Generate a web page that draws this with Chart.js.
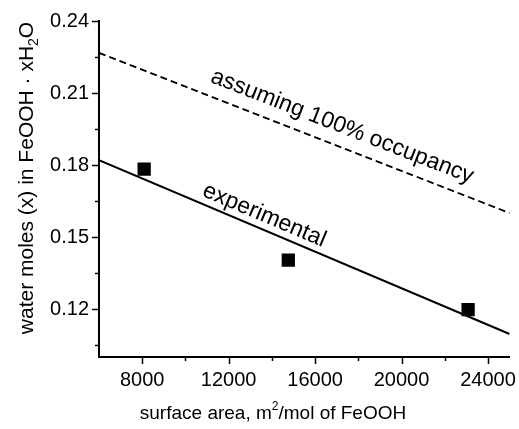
<!DOCTYPE html>
<html>
<head>
<meta charset="utf-8">
<title>Water content vs surface area</title>
<script src="https://cdn.jsdelivr.net/npm/chart.js@4"></script>
<style>
  html, body { margin: 0; padding: 0; background: #fff; }
  #wrap { width: 519px; height: 429px; position: relative; }
</style>
</head>
<body>
<div id="wrap"><canvas id="chart"></canvas></div>
<script>
// ---- data ----
const areaMeasured   = [8090, 14760, 23080];        // m2/mol of FeOOH
const waterMeasured  = [0.1783, 0.1404, 0.1197];    // x in FeOOH·xH2O
const fitX           = [6000, 25000];
const fitExperimental = [0.182, 0.1096];
const fitFullCoverage = [0.2267, 0.160];

const xTickValues  = [8000, 12000, 16000, 20000, 24000];
const xMinorValues = [10000, 14000, 18000, 22000];
const yTickValues  = [0.12, 0.15, 0.18, 0.21, 0.24];
const yMinorValues = [0.105, 0.135, 0.165, 0.195, 0.225];

const FONT = "'Liberation Sans', Arial, sans-serif";

const toPoints = (xs, ys) => xs.map((x, i) => ({ x, y: ys[i] }));

// ---- line captions, anchored in data units ----
const captions = [
  { text: 'experimental',            dataset: 1, x: 13650, y: 0.1590 },
  { text: 'assuming 100% occupancy', dataset: 2, x: 17250, y: 0.1960 }
];

// ---- outward major / minor ticks ----
const tickMarks = {
  id: 'tickMarks',
  afterDraw(chart) {
    const { ctx, chartArea, scales } = chart;
    ctx.save();
    ctx.strokeStyle = '#000';
    ctx.lineWidth = 1.5;
    const tick = (vals, len, axis) => vals.forEach(v => {
      ctx.beginPath();
      if (axis === 'x') {
        const px = Math.round(scales.x.getPixelForValue(v)) + 0.5;
        ctx.moveTo(px, chartArea.bottom);
        ctx.lineTo(px, chartArea.bottom + len);
      } else {
        const py = Math.round(scales.y.getPixelForValue(v)) + 0.5;
        ctx.moveTo(chartArea.left, py);
        ctx.lineTo(chartArea.left - len, py);
      }
      ctx.stroke();
    });
    tick(xTickValues, 7, 'x');
    tick(xMinorValues, 4, 'x');
    tick(yTickValues, 7, 'y');
    tick(yMinorValues, 4, 'y');
    ctx.restore();
  }
};

// draws text made of plain / super / subscript runs, centred on 0,0
function drawRuns(ctx, runs, size) {
  const small = Math.round(size * 0.65);
  const widths = runs.map(r => {
    ctx.font = (r.sup || r.sub ? small : size) + 'px ' + FONT;
    return ctx.measureText(r.t).width;
  });
  let x = -widths.reduce((a, b) => a + b, 0) / 2;
  runs.forEach((r, i) => {
    ctx.font = (r.sup || r.sub ? small : size) + 'px ' + FONT;
    const dy = r.sup ? -size * 0.45 : r.sub ? size * 0.22 : 0;
    ctx.fillText(r.t, x, dy);
    x += widths[i];
  });
}

// ---- axis titles and line captions ----
const annotations = {
  id: 'annotations',
  afterDraw(chart) {
    const { ctx, scales } = chart;
    ctx.save();
    ctx.fillStyle = '#000';
    ctx.textBaseline = 'alphabetic';
    ctx.textAlign = 'left';

    // x title
    ctx.save();
    ctx.translate(273, 419);
    drawRuns(ctx, [{ t: 'surface area, m' }, { t: '2', sup: true }, { t: '/mol of FeOOH' }], 19);
    ctx.restore();

    // y title
    ctx.save();
    ctx.translate(33, 178);
    ctx.rotate(-Math.PI / 2);
    drawRuns(ctx, [{ t: 'water moles (x) in FeOOH \u00b7 xH' }, { t: '2', sub: true }, { t: 'O' }], 21);
    ctx.restore();

    // captions rotated along their lines
    captions.forEach(c => {
      const d = chart.data.datasets[c.dataset].data;
      const x1 = scales.x.getPixelForValue(d[0].x), y1 = scales.y.getPixelForValue(d[0].y);
      const x2 = scales.x.getPixelForValue(d[1].x), y2 = scales.y.getPixelForValue(d[1].y);
      ctx.save();
      ctx.translate(scales.x.getPixelForValue(c.x), scales.y.getPixelForValue(c.y));
      ctx.rotate(Math.atan2(y2 - y1, x2 - x1));
      ctx.font = '23px ' + FONT;
      ctx.textAlign = 'center';
      ctx.textBaseline = 'middle';
      ctx.fillText(c.text, 0, 0);
      ctx.restore();
    });
    ctx.restore();
  }
};

new Chart(document.getElementById('chart'), {
  type: 'scatter',
  data: {
    datasets: [
      {
        label: 'measured',
        data: toPoints(areaMeasured, waterMeasured),
        pointStyle: 'rect',
        pointRadius: 9.4,
        pointBackgroundColor: '#000',
        pointBorderWidth: 0,
        showLine: false
      },
      {
        label: 'experimental',
        data: toPoints(fitX, fitExperimental),
        showLine: true,
        borderColor: '#000',
        borderWidth: 2,
        pointRadius: 0
      },
      {
        label: 'assuming 100% occupancy',
        data: toPoints(fitX, fitFullCoverage),
        showLine: true,
        borderColor: '#000',
        borderWidth: 1.8,
        borderDash: [7, 4],
        pointRadius: 0
      }
    ]
  },
  options: {
    responsive: true,
    maintainAspectRatio: false,
    animation: false,
    layout: { padding: { top: 21, right: 7, left: 0, bottom: 0 } },
    plugins: { legend: { display: false }, tooltip: { enabled: false } },
    scales: {
      x: {
        type: 'linear',
        min: 6000,
        max: 25000,
        afterBuildTicks: s => { s.ticks = xTickValues.map(v => ({ value: v })); },
        afterFit: s => { s.height = 72; s.paddingLeft = 0; s.paddingRight = 0; },
        grid: { display: true, drawOnChartArea: false, drawTicks: false },
        border: { display: true, color: '#000', width: 2 },
        ticks: {
          color: '#000',
          font: { family: FONT, size: 20 },
          padding: 11,
          maxRotation: 0,
          autoSkip: false,
          callback: v => String(v)
        }
      },
      y: {
        type: 'linear',
        min: 0.10,
        max: 0.24,
        afterBuildTicks: s => { s.ticks = yTickValues.map(v => ({ value: v })); },
        afterFit: s => { s.width = 99; s.paddingTop = 0; s.paddingBottom = 0; },
        grid: { display: true, drawOnChartArea: false, drawTicks: false },
        border: { display: true, color: '#000', width: 2 },
        ticks: {
          color: '#000',
          font: { family: FONT, size: 20 },
          padding: 10,
          autoSkip: false,
          callback: v => v.toFixed(2)
        }
      }
    }
  },
  plugins: [tickMarks, annotations]
});
</script>
</body>
</html>
